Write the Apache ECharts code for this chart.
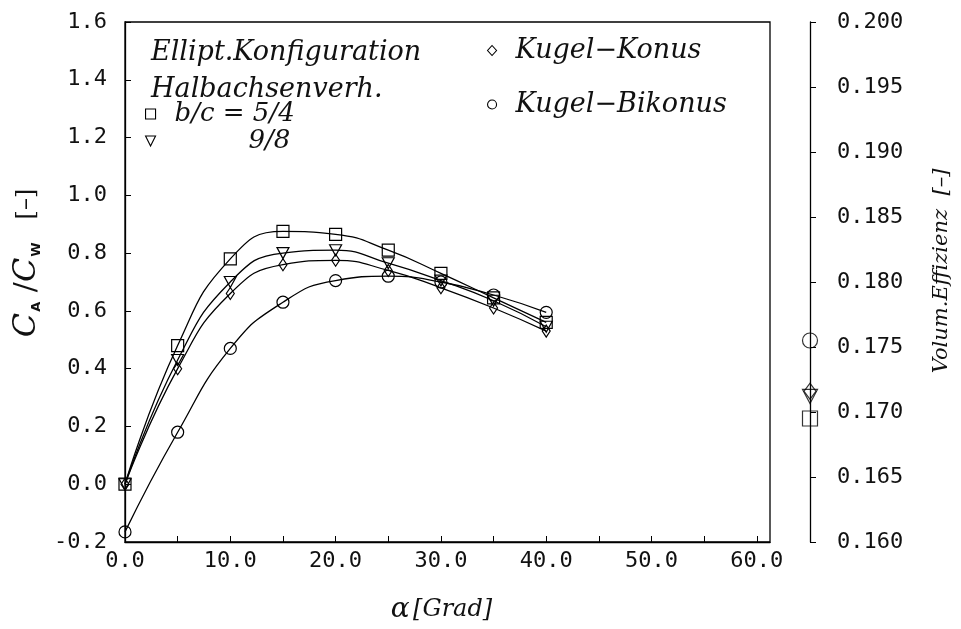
<!DOCTYPE html>
<html>
<head>
<meta charset="utf-8">
<script src="https://cdn.jsdelivr.net/npm/echarts@6/dist/echarts.min.js"></script>
<style>html,body{margin:0;padding:0;background:#fff}#c{width:961px;height:629px}</style>
</head>
<body>
<div id="c"></div>
<script>
// ---- data ----
const alphaDeg     = [0, 5, 10, 15, 20, 25, 30, 35, 40];
const ellipt54     = [0.00, 0.48, 0.78, 0.875, 0.865, 0.81, 0.73, 0.645, 0.56];
const ellipt98     = [0.00, 0.43, 0.70, 0.80, 0.81, 0.765, 0.705, 0.635, 0.545];
const kugelKonus   = [0.00, 0.40, 0.66, 0.76, 0.775, 0.74, 0.68, 0.61, 0.53];
const kugelBikonus = [-0.165, 0.18, 0.47, 0.63, 0.705, 0.72, 0.70, 0.655, 0.595];
const volEffLabel  = 'Volum.Effizienz';
const volEffSeries = ['b/c = 5/4', '9/8', 'Kugel−Konus', 'Kugel−Bikonus'];
const volEffValues = [0.1695, 0.1712, 0.1716, 0.1755];
const leftTickStep = 0.2, rightTickStep = 0.005, xTickStep = 5;

// ---- styles ----
const SERIF = 'DejaVu Serif';
const MONO = 'DejaVu Sans Mono';
const TRI = 'path://M0,0L10,0L5,10Z';
const markerStyle = {color: 'rgba(255,255,255,0)', borderColor: '#000', borderWidth: 1.2};
const symbolOf = {
  'b/c = 5/4': {symbol: 'rect', size: 12, big: 15},
  '9/8': {symbol: TRI, size: [12, 11], big: [15, 14]},
  'Kugel−Konus': {symbol: 'diamond', size: [8, 12], big: [12, 16]},
  'Kugel−Bikonus': {symbol: 'circle', size: 12, big: 15}
};
const curveData = {
  'b/c = 5/4': ellipt54, '9/8': ellipt98,
  'Kugel−Konus': kugelKonus, 'Kugel−Bikonus': kugelBikonus
};

const lineSeries = Object.keys(curveData).map(name => ({
  name, type: 'line', xAxisIndex: 0, yAxisIndex: 0,
  data: alphaDeg.map((a, i) => [a, curveData[name][i]]),
  smooth: 0.5,
  symbol: symbolOf[name].symbol, symbolSize: symbolOf[name].size,
  showSymbol: true, clip: true,
  lineStyle: {color: '#000', width: 1.3},
  itemStyle: markerStyle, z: 3
}));

const volSeries = {
  name: volEffLabel, type: 'scatter', xAxisIndex: 1, yAxisIndex: 1,
  data: volEffSeries.map((n, i) => ({
    value: [volEffLabel, volEffValues[i]],
    symbol: symbolOf[n].symbol, symbolSize: symbolOf[n].big
  })),
  itemStyle: markerStyle, z: 4
};

const lblFont = {fontFamily: MONO, fontSize: 22, color: '#111'};
const legendText = {fontFamily: SERIF, fontStyle: 'italic', fontSize: 26, color: '#111', lineHeight: 26};

const option = {
  animation: false,
  backgroundColor: '#fff',
  title: {
    text: 'Ellipt.Konfiguration\nHalbachsenverh.',
    left: 151, top: 34, padding: 0,
    textStyle: {fontFamily: SERIF, fontStyle: 'italic', fontWeight: 'normal', fontSize: 27, lineHeight: 37, color: '#111'}
  },
  legend: [
    {
      orient: 'vertical', left: 145, top: 101, padding: 0, itemGap: 1,
      itemWidth: 10, itemHeight: 10, selectedMode: false,
      itemStyle: {color: '#fff', borderColor: '#000', borderWidth: 1.1},
      textStyle: Object.assign({}, legendText, {padding: [0, 0, 0, 14]}),
      data: [
        {name: 'b/c = 5/4', icon: 'rect'},
        {name: '9/8', icon: TRI, textStyle: Object.assign({}, legendText, {padding: [0, 0, 0, 88]})}
      ]
    },
    {
      orient: 'vertical', left: 487, top: 37, padding: 0, itemGap: 27,
      itemWidth: 9, itemHeight: 10, selectedMode: false,
      itemStyle: {color: '#fff', borderColor: '#000', borderWidth: 1.1},
      textStyle: Object.assign({}, legendText, {fontSize: 27, padding: [0, 0, 0, 14]}),
      data: [
        {name: 'Kugel−Konus', icon: 'diamond', itemWidth: 7},
        {name: 'Kugel−Bikonus', icon: 'circle'}
      ]
    }
  ],
  grid: [
    {left: 125, top: 22, width: 645, height: 520, show: true, borderColor: '#000', borderWidth: 1.3, backgroundColor: 'transparent'},
    {left: 800, top: 22, width: 20, height: 520, show: false}
  ],
  xAxis: [
    {
      gridIndex: 0, type: 'value', min: 0, max: 61.25, interval: xTickStep,
      axisLine: {show: true, onZero: false, lineStyle: {color: '#000', width: 1.3}},
      axisTick: {show: true, inside: true, length: 6, lineStyle: {color: '#000', width: 1}},
      splitLine: {show: false},
      axisLabel: Object.assign({margin: 8, showMaxLabel: false,
        formatter: v => (Math.abs(v % 10) < 1e-6 ? v.toFixed(1) : '')}, lblFont),
      name: '{a|α} {g|[Grad]}', nameLocation: 'middle', nameGap: 54,
      nameTextStyle: {padding: [0, 12, 0, 0], rich: {
        a: {fontFamily: SERIF, fontStyle: 'italic', fontSize: 28, color: '#111'},
        g: {fontFamily: SERIF, fontStyle: 'italic', fontSize: 24, color: '#111'}
      }}
    },
    {gridIndex: 1, type: 'category', data: [volEffLabel], show: false}
  ],
  yAxis: [
    {
      gridIndex: 0, type: 'value', min: -0.2, max: 1.6, interval: leftTickStep,
      axisLine: {show: true, onZero: false, lineStyle: {color: '#000', width: 1.3}},
      axisTick: {show: true, inside: true, length: 6, lineStyle: {color: '#000', width: 1}},
      splitLine: {show: false},
      axisLabel: Object.assign({margin: 18, formatter: v => v.toFixed(1)}, lblFont),
      name: '{c|C}{s|A}{sl| /}{c|C}{s|W}{b|   [–]}',
      nameLocation: 'middle', nameRotate: 90, nameGap: 72,
      nameTextStyle: {padding: [0, 0, 0, 38], rich: {
        c: {fontFamily: SERIF, fontStyle: 'italic', fontSize: 32, color: '#111'},
        s: {fontFamily: 'DejaVu Sans', fontWeight: 'bold', fontSize: 13, color: '#111', verticalAlign: 'bottom', padding: [0, 0, 0, 1]},
        sl: {fontFamily: SERIF, fontSize: 30, color: '#111'},
        b: {fontFamily: SERIF, fontSize: 24, color: '#111'}
      }}
    },
    {
      gridIndex: 1, type: 'value', position: 'right', offset: -10,
      min: 0.16, max: 0.2, interval: rightTickStep,
      axisLine: {show: true, onZero: false, lineStyle: {color: '#000', width: 1.3}},
      axisTick: {show: true, inside: false, length: 6, lineStyle: {color: '#000', width: 1}},
      splitLine: {show: false},
      axisLabel: Object.assign({margin: 27, formatter: v => v.toFixed(3)}, lblFont),
      name: 'Volum.Effizienz  [–]', nameLocation: 'middle', nameRotate: 90, nameGap: 121,
      nameTextStyle: {fontFamily: SERIF, fontStyle: 'italic', fontSize: 21, color: '#111', padding: [0, 0, 0, 22]}
    }
  ],
  series: lineSeries.concat([volSeries])
};

const chart = echarts.init(document.getElementById('c'), null, {renderer: 'canvas'});
chart.setOption(option);
</script>
</body>
</html>
